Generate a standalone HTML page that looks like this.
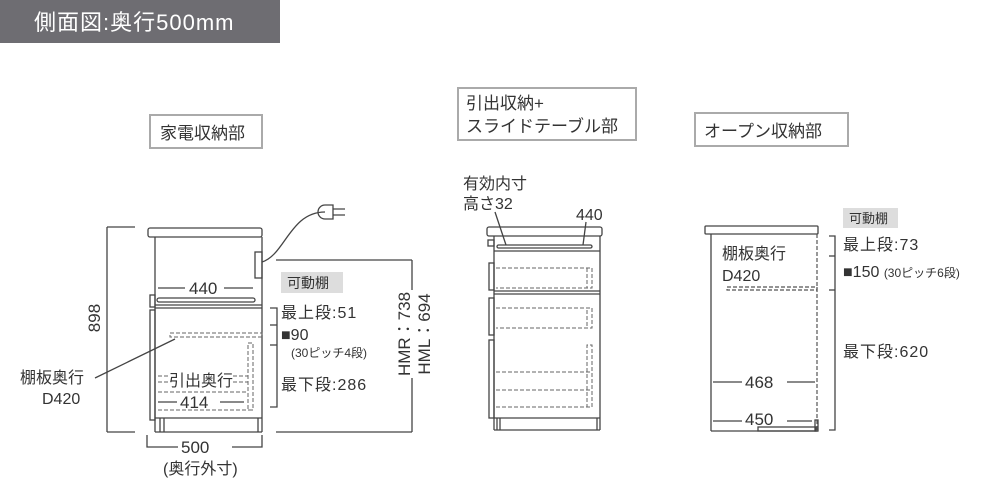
<!DOCTYPE html>
<html><head><meta charset="utf-8"><style>
html,body{margin:0;padding:0;background:#fff;width:1000px;height:500px;overflow:hidden}
svg text{font-family:"Liberation Sans","Noto Sans CJK JP",sans-serif;fill:#333}
</style></head><body>
<svg width="1000" height="500" viewBox="0 0 1000 500" xmlns="http://www.w3.org/2000/svg">
<rect x="0" y="0" width="280" height="43" fill="#6e6d72"/>
<text x="34" y="30" font-size="22" letter-spacing="1" style="fill:#fff">側面図:奥行500mm</text>

<g fill="none" stroke="#aaa" stroke-width="2">
<rect x="150" y="115" width="112" height="33"/>
<rect x="458" y="88" width="178" height="52"/>
<rect x="695" y="113" width="153" height="33"/>
</g>
<text x="160" y="139" font-size="17">家電収納部</text>
<text x="466" y="109" font-size="17">引出収納+</text>
<text x="466" y="132" font-size="17">スライドテーブル部</text>
<text x="704" y="137" font-size="17">オープン収納部</text>

<!-- LEFT cabinet -->
<g stroke="#444" stroke-width="1.3" fill="none">
<rect x="148" y="228" width="114" height="9" rx="2"/>
<line x1="155" y1="237" x2="155" y2="432"/>
<line x1="262" y1="237" x2="262" y2="432"/>
<line x1="155" y1="432" x2="262" y2="432"/>
<rect x="255" y="252" width="7" height="26"/>
<path d="M262 262 C285 255,290 212,325 212"/>
<path d="M325 205 h8 v14 h-8 a7 7 0 0 1 0 -14z M333 209 h12 M333 215 h12"/>
<rect x="157" y="298" width="98" height="4" rx="2"/>
<line x1="155" y1="305" x2="262" y2="305"/>
<line x1="155" y1="308" x2="262" y2="308"/>
<rect x="150" y="295" width="5" height="12"/>
<rect x="150" y="310" width="5" height="110"/>
<line x1="155" y1="418" x2="262" y2="418"/>
<line x1="160" y1="418" x2="160" y2="432"/><line x1="164" y1="418" x2="164" y2="432"/>
<line x1="258" y1="418" x2="258" y2="432"/>
<line x1="107" y1="227" x2="107" y2="432"/>
<line x1="107" y1="227" x2="135" y2="227"/><line x1="107" y1="432" x2="135" y2="432"/>
<polyline points="147,435 147,447 178,447"/><polyline points="232,447 262,447 262,435"/>
<polyline points="270,308 277,308 277,407 270,407"/>
<line x1="270" y1="325" x2="277" y2="325"/><line x1="270" y1="345" x2="277" y2="345"/>
<line x1="276" y1="260" x2="412" y2="260"/><line x1="276" y1="432" x2="412" y2="432"/>
<line x1="412" y1="260" x2="412" y2="290"/><line x1="412" y1="378" x2="412" y2="432"/>
<line x1="95" y1="378" x2="175" y2="339"/>
<line x1="158" y1="288" x2="185" y2="288"/><line x1="224" y1="288" x2="253" y2="288"/>
<line x1="158" y1="402" x2="177" y2="402"/><line x1="220" y1="402" x2="244" y2="402"/>
</g>
<g stroke="#666" stroke-width="1" fill="none" stroke-dasharray="4,2">
<rect x="170" y="333" width="92" height="4"/>
<rect x="248" y="343" width="5" height="67"/>
<line x1="158" y1="376" x2="168" y2="376"/><line x1="158" y1="382" x2="168" y2="382"/>
<line x1="233" y1="376" x2="248" y2="376"/><line x1="233" y1="382" x2="248" y2="382"/>
<line x1="158" y1="392" x2="248" y2="392"/>
<line x1="158" y1="410" x2="250" y2="410"/>
</g>
<text x="189" y="294" font-size="17">440</text>
<text x="169" y="386" font-size="16">引出奥行</text>
<text x="180" y="408" font-size="17">414</text>
<text x="181" y="453" font-size="17">500</text>
<text x="163" y="474" font-size="16">(奥行外寸)</text>
<text transform="translate(100,318) rotate(-90)" font-size="17" text-anchor="middle">898</text>
<text x="20" y="383" font-size="16">棚板奥行</text>
<text x="42" y="404" font-size="16">D420</text>
<rect x="281" y="272" width="62" height="21" fill="#ddd"/>
<text x="287" y="288" font-size="14">可動棚</text>
<text x="281" y="318" font-size="16" letter-spacing="1">最上段:51</text>
<text x="281" y="340" font-size="16">■90</text>
<text x="291" y="357" font-size="12">(30ピッチ4段)</text>
<text x="281" y="390" font-size="16" letter-spacing="1">最下段:286</text>
<text transform="translate(410,334) rotate(-90)" font-size="17" text-anchor="middle">HMR：738</text>
<text transform="translate(430,334) rotate(-90)" font-size="17" text-anchor="middle">HML：694</text>

<!-- MIDDLE cabinet -->
<g stroke="#444" stroke-width="1.3" fill="none">
<rect x="487" y="227" width="115" height="9" rx="2"/>
<line x1="494" y1="236" x2="494" y2="430"/>
<line x1="600" y1="236" x2="600" y2="430"/>
<line x1="494" y1="430" x2="600" y2="430"/>
<rect x="497" y="245" width="95" height="3" rx="1.5"/>
<line x1="494" y1="251" x2="600" y2="251"/>
<line x1="494" y1="291" x2="600" y2="291"/>
<line x1="494" y1="294" x2="600" y2="294"/>
<rect x="488" y="240" width="6" height="6"/>
<rect x="489" y="263" width="5" height="27"/>
<rect x="489" y="298" width="5" height="37"/>
<rect x="489" y="340" width="5" height="78"/>
<line x1="494" y1="418" x2="600" y2="418"/>
<line x1="497" y1="418" x2="497" y2="430"/><line x1="500" y1="418" x2="500" y2="430"/>
<line x1="597" y1="418" x2="597" y2="430"/>
<line x1="495" y1="212" x2="506" y2="245"/>
<line x1="586" y1="222" x2="583" y2="245"/>
</g>
<g stroke="#666" stroke-width="1" fill="none" stroke-dasharray="4,2">
<polyline points="496,268 592,268 592,288 496,288"/><line x1="587" y1="268" x2="587" y2="288"/>
<polyline points="496,308 592,308 592,328 496,328"/><line x1="587" y1="310" x2="587" y2="328"/>
<polyline points="496,372 592,372"/><polyline points="496,390 592,390"/>
<polyline points="496,407 592,407 592,345 587,345 587,407"/>
</g>
<text x="463" y="189" font-size="16">有効内寸</text>
<text x="463" y="209" font-size="16">高さ32</text>
<text x="576" y="220" font-size="16">440</text>

<!-- RIGHT cabinet -->
<g stroke="#444" stroke-width="1.3" fill="none">
<rect x="705" y="226" width="113" height="8" rx="1"/>
<line x1="711" y1="234" x2="711" y2="431"/>
<line x1="711" y1="431" x2="818" y2="431"/>
<rect x="758" y="427" width="58" height="4"/>
<rect x="815" y="420" width="3" height="11"/>
<polyline points="829,236 835,236 835,430 829,430"/>
<line x1="829" y1="256" x2="835" y2="256"/><line x1="829" y1="290" x2="835" y2="290"/>
<line x1="713" y1="382" x2="742" y2="382"/><line x1="787" y1="382" x2="815" y2="382"/>
<line x1="713" y1="421" x2="742" y2="421"/><line x1="787" y1="421" x2="812" y2="421"/>
</g>
<g stroke="#555" stroke-width="1.2" fill="none" stroke-dasharray="4,2">
<line x1="817" y1="234" x2="817" y2="431"/>
<rect x="727" y="287" width="90" height="3"/>
</g>
<text x="722" y="259" font-size="16">棚板奥行</text>
<text x="722" y="281" font-size="16">D420</text>
<text x="745" y="388" font-size="17">468</text>
<text x="745" y="425" font-size="17">450</text>
<rect x="843" y="208" width="55" height="20" fill="#ddd"/>
<text x="849" y="223" font-size="13">可動棚</text>
<text x="843" y="250" font-size="16" letter-spacing="1">最上段:73</text>
<text x="843" y="277" font-size="16">■150 <tspan font-size="12">(30ピッチ6段)</tspan></text>
<text x="843" y="357" font-size="16" letter-spacing="1">最下段:620</text>
</svg>
</body></html>
